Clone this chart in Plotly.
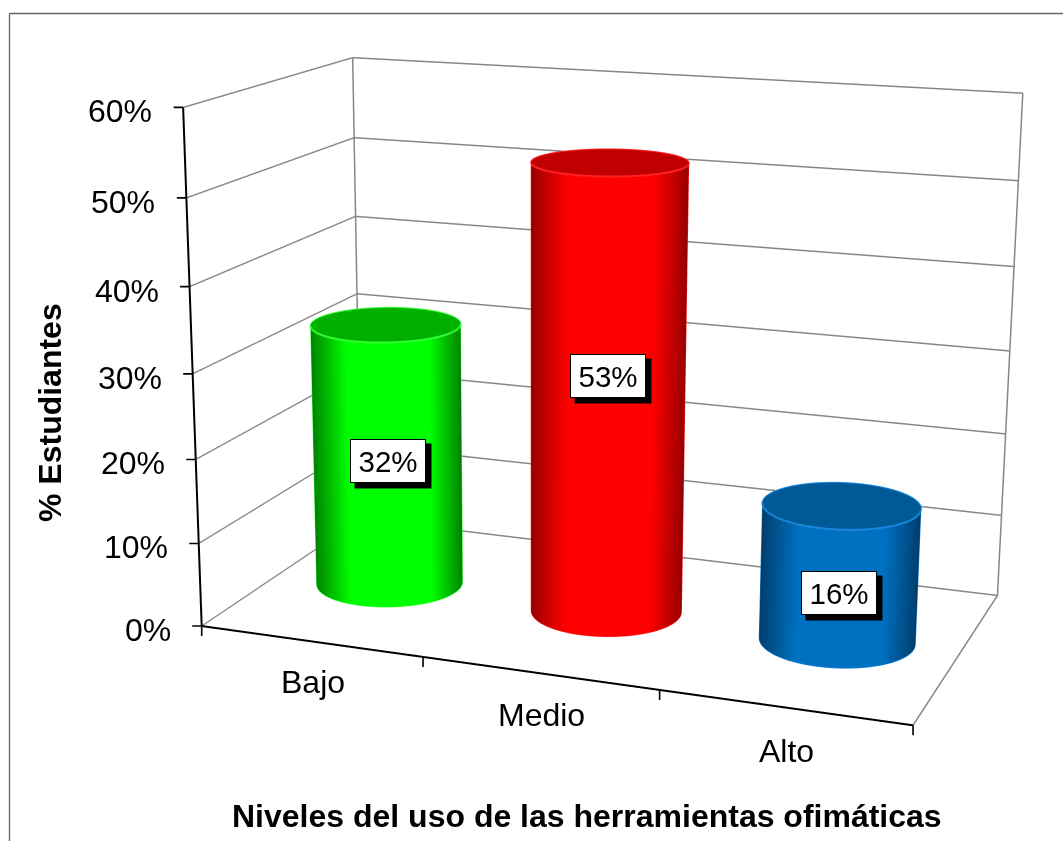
import numpy as np
import plotly.graph_objects as go

# Chart data
categorias = ["Bajo", "Medio", "Alto"]
valores = [0.32, 0.53, 0.16]
ticks_pct = [0, 0.1, 0.2, 0.3, 0.4, 0.5, 0.6]

# Colours per bar: body, darkest edge, cap, rim
cuerpo = ["#00ff00", "#ff0000", "#0070c0"]
sombra = ["#008200", "#960000", "#003e6c"]
tapa = ["#00b000", "#c00000", "#005a96"]
borde = ["#30ff30", "#ff2020", "#1a86dc"]

GRIS = "#868686"
FUENTE = "Liberation Sans"

# Scene proportions and camera
ASPECTO = dict(x=1.0, y=0.5244, z=0.72)
OJO = np.array([1.1544, -3.2685, 0.8773])
CENTRO = np.array([-0.1127, 0.0, -0.0941])
ARRIBA = np.array([0.0041, 0.0, 1.0])
FOCAL_PX = 2610.06
ALTO_PX, ANCHO_PX = 841, 1063
RADIO = 0.1055  # cylinder radius in normalised scene units

X_RANGO = [0, 3]
Y_RANGO = [-0.5, 0.5]
Z_RANGO = [0, 0.6]
LARGO_X = X_RANGO[1] - X_RANGO[0]

# Vertical nudge of each value label, in pixels
ajuste_etiqueta = [-6, 16, -20]


def aro(i, n=181):
    """Circle around category i in axis units; angle 0 lies on the right-hand silhouette."""
    centro = np.array([(i + 0.5) / LARGO_X - 0.5, 0.0, 0.0])
    vista = centro - OJO
    vista[2] = 0
    fondo = vista / np.linalg.norm(vista)
    derecha = np.array([fondo[1], -fondo[0], 0.0])
    phi = np.linspace(0, 2 * np.pi, n)
    bx = RADIO * (np.cos(phi) * derecha[0] + np.sin(phi) * fondo[0])
    by = RADIO * (np.cos(phi) * derecha[1] + np.sin(phi) * fondo[1])
    return (i + 0.5) + bx * LARGO_X, by / ASPECTO["y"], phi


fig = go.Figure()
luz = dict(ambient=1, diffuse=0, specular=0, roughness=1, fresnel=0)

for i, v in enumerate(valores):
    x, y, phi = aro(i)
    escala = [[0.0, sombra[i]], [0.24, cuerpo[i]], [0.78, cuerpo[i]], [1.0, sombra[i]]]
    # Cylinder wall, shaded across its visible width
    fig.add_trace(go.Surface(
        x=np.vstack([x, x]), y=np.vstack([y, y]),
        z=np.vstack([np.zeros_like(x), np.full_like(x, v)]),
        surfacecolor=np.vstack([np.cos(phi), np.cos(phi)]),
        cmin=-1, cmax=1, colorscale=escala, showscale=False, lighting=luz, hoverinfo="skip",
    ))
    # Flat top cap
    s = np.linspace(0, 1, 2)[:, None]
    cx = i + 0.5
    fig.add_trace(go.Surface(
        x=cx + s * (x - cx), y=s * y, z=np.full((2, x.size), v),
        surfacecolor=np.zeros((2, x.size)), cmin=-1, cmax=1,
        colorscale=[[0, tapa[i]], [1, tapa[i]]], showscale=False, lighting=luz, hoverinfo="skip",
    ))
    # Light rims round the cap and the base, and down both sides
    for nivel, ancho in ((v, 4), (0, 2)):
        fig.add_trace(go.Scatter3d(
            x=x, y=y, z=np.full_like(x, nivel), mode="lines",
            line=dict(color=borde[i], width=ancho), hoverinfo="skip",
        ))
    for j in (0, (x.size - 1) // 2):
        fig.add_trace(go.Scatter3d(
            x=[x[j], x[j]], y=[y[j], y[j]], z=[0, v], mode="lines",
            line=dict(color=borde[i], width=2), hoverinfo="skip",
        ))

x0, x1 = X_RANGO
y0, y1 = Y_RANGO
z0, z1 = Z_RANGO


def arista(xs, ys, zs, color, ancho=3):
    fig.add_trace(go.Scatter3d(
        x=xs, y=ys, z=zs, mode="lines", line=dict(color=color, width=ancho), hoverinfo="skip",
    ))


# Box edges not covered by the value gridlines
arista([x0, x0], [y1, y1], [z0, z1], GRIS)
arista([x1, x1], [y1, y1], [z0, z1], GRIS)
arista([x1, x1], [y0, y1], [z0, z0], GRIS)
# The two axes proper
arista([x0, x0], [y0, y0], [z0, z1], "black", 4)
arista([x0, x1], [y0, y0], [z0, z0], "black", 4)

notas = []


def marca(x, y, z, ax, ay):
    notas.append(dict(
        x=x, y=y, z=z, text=" ", showarrow=True, arrowhead=0, arrowwidth=1.6, arrowcolor="black",
        ax=ax, ay=ay, font=dict(size=1), borderpad=0, standoff=0,
    ))


for t in ticks_pct:
    marca(x0, y0, t, -10, 0)
    notas.append(dict(
        x=x0, y=y0, z=t, text=f"{t:.0%}", showarrow=False, xanchor="right", xshift=-29, yshift=-4,
        font=dict(family=FUENTE, size=32, color="black"),
    ))

for k in range(len(categorias) + 1):
    marca(k, y0, z0, 0, 11)

for i, c in enumerate(categorias):
    notas.append(dict(
        x=i + 0.5, y=y0, z=z0, text=c, showarrow=False, xanchor="center", xshift=2, yshift=-40.5 - 1.5 * i,
        font=dict(family=FUENTE, size=32, color="black"),
    ))

# Value labels: a black offset box behind a white one
for i, v in enumerate(valores):
    notas.append(dict(
        x=i + 0.5, y=0, z=v / 2, text="\u00a0", showarrow=False, width=74, height=42,
        bgcolor="black", xshift=5, yshift=ajuste_etiqueta[i] - 5, font=dict(family=FUENTE, size=28),
    ))
    notas.append(dict(
        x=i + 0.5, y=0, z=v / 2, text=f"{v:.0%}", showarrow=False, width=74, height=42,
        bgcolor="white", bordercolor="black", borderwidth=1, borderpad=0, yshift=ajuste_etiqueta[i],
        font=dict(family=FUENTE, size=29.5, color="black"),
    ))

eje = dict(
    showbackground=False, showticklabels=False, title="", showspikes=False,
    zeroline=False, showline=False, ticks="", showgrid=False,
)

fig.update_layout(
    width=ANCHO_PX, height=ALTO_PX, margin=dict(l=0, r=0, t=0, b=0), showlegend=False,
    paper_bgcolor="white",
    scene=dict(
        domain=dict(x=[0, 1], y=[0, 1]), aspectmode="manual", aspectratio=ASPECTO,
        camera=dict(
            eye=dict(x=OJO[0], y=OJO[1], z=OJO[2]),
            center=dict(x=CENTRO[0], y=CENTRO[1], z=CENTRO[2]),
            up=dict(x=ARRIBA[0], y=ARRIBA[1], z=ARRIBA[2]),
        ),
        xaxis=dict(eje, range=X_RANGO),
        yaxis=dict(eje, range=Y_RANGO),
        zaxis=dict(eje, range=Z_RANGO, tickvals=ticks_pct, showgrid=True, gridcolor=GRIS, gridwidth=3),
        annotations=notas,
    ),
    annotations=[
        dict(text="<b>% Estudiantes</b>", xref="paper", yref="paper", x=50 / ANCHO_PX, y=1 - 413 / ALTO_PX,
             xanchor="center", yanchor="middle", textangle=-90, showarrow=False,
             font=dict(family=FUENTE, size=32, color="black")),
        dict(text="<b>Niveles del uso de las herramientas ofimáticas</b>", xref="paper", yref="paper",
             x=587 / ANCHO_PX, y=1 - 816 / ALTO_PX, xanchor="center", yanchor="middle", showarrow=False,
             font=dict(family=FUENTE, size=32, color="black")),
    ],
    shapes=[
        dict(type="line", xref="paper", yref="paper", x0=9.5 / ANCHO_PX, x1=1, y0=1 - 13.5 / ALTO_PX,
             y1=1 - 13.5 / ALTO_PX, line=dict(color="#666666", width=1.3)),
        dict(type="line", xref="paper", yref="paper", x0=9.5 / ANCHO_PX, x1=9.5 / ANCHO_PX, y0=0,
             y1=1 - 13.5 / ALTO_PX, line=dict(color="#666666", width=1.3)),
    ],
)

# Plotly's scene has no lens setting, so the long focal length is applied once the scene exists
fovy = 2 * np.arctan(0.5 * ALTO_PX / FOCAL_PX)
lente = (
    "var g=document.querySelector('.plotly-graph-div')._fullLayout.scene._scene.glplot;"
    f"g.fovy={fovy:.6f};g.redraw();"
)
fig.write_html("out.html", post_script=lente)
